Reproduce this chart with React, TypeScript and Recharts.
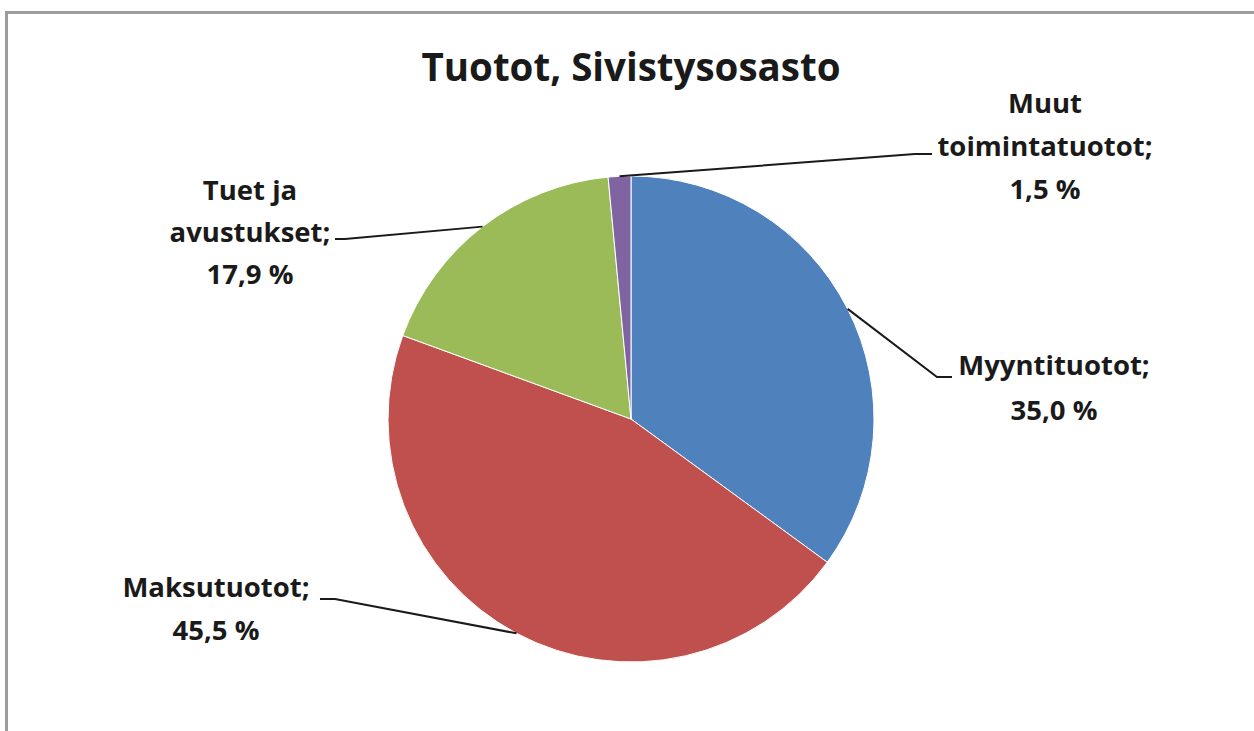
import React from "react";
import { PieChart, Pie, Cell } from "recharts";

const title = "Tuotot, Sivistysosasto";
const names = ["Myyntituotot", "Maksutuotot", "Tuet ja avustukset", "Muut toimintatuotot"];
const values = [35.0, 45.5, 17.9, 1.5];
const nameLines = [["Myyntituotot;"], ["Maksutuotot;"], ["Tuet ja", "avustukset;"], ["Muut", "toimintatuotot;"]];
const colors = ["#4F81BD", "#C0504D", "#9BBB59", "#8064A2"];

// label layout, offsets from pie centre: elbow, line end, text centre x, first baseline, line gap
const labelLayout = [
  { ex: 306, ey: -42, lx: 321, tx: 423, ty: -44, gap: 45 },
  { ex: -296, ey: 180, lx: -311, tx: -415, ty: 178, gap: 43 },
  { ex: -286, ey: -180, lx: -296, tx: -381, ty: -219, gap: 42 },
  { ex: 284, ey: -265, lx: 301, tx: 414, ty: -306, gap: 43 },
];

const data = names.map((n, i) => ({ name: n, value: values[i] }));

const FONT = "'Open Sans', Lato, sans-serif";
const RAD = Math.PI / 180;

const fmt = (v: number) => v.toFixed(1).replace(".", ",") + " %";

const renderLabel = (props: any) => {
  const { cx, cy, midAngle, outerRadius, index, value } = props;
  const L = labelLayout[index];
  const sx = cx + outerRadius * Math.cos(-midAngle * RAD);
  const sy = cy + outerRadius * Math.sin(-midAngle * RAD);
  const lines = [...nameLines[index], fmt(value)];
  return (
    <g key={`lbl-${index}`}>
      <polyline
        points={`${sx},${sy} ${cx + L.ex},${cy + L.ey} ${cx + L.lx},${cy + L.ey}`}
        fill="none"
        stroke="#1a1a1a"
        strokeWidth={2}
      />
      {lines.map((t, k) => (
        <text
          key={k}
          x={cx + L.tx}
          y={cy + L.ty + k * L.gap}
          textAnchor="middle"
          fontFamily={FONT}
          fontWeight={700}
          fontSize={27.5}
          fill="#1a1a1a"
        >
          {t}
        </text>
      ))}
    </g>
  );
};

export default function App() {
  return (
    <div
      style={{
        position: "absolute",
        left: 0,
        top: 0,
        width: 1254,
        height: 731,
        overflow: "hidden",
        background: "#fff",
      }}
    >
      <div
        style={{
          position: "absolute",
          left: 5,
          top: 11,
          width: 1300,
          height: 800,
          borderLeft: "3px solid #9c9c9c",
          borderTop: "3px solid #9c9c9c",
        }}
      />
      <div
        style={{
          position: "absolute",
          left: 0,
          top: 46,
          width: 1262,
          textAlign: "center",
          fontFamily: FONT,
          fontWeight: 700,
          fontSize: 38.5,
          color: "#1a1a1a",
          lineHeight: "40px",
          whiteSpace: "nowrap",
        }}
      >
        {title}
      </div>
      <div style={{ position: "absolute", left: 0, top: 0 }}>
        <PieChart width={1254} height={731} margin={{ top: 0, right: 0, bottom: 0, left: 0 }}>
          <Pie
            data={data}
            dataKey="value"
            nameKey="name"
            cx={631}
            cy={419}
            outerRadius={243}
            startAngle={90}
            endAngle={-270}
            stroke="#ffffff"
            strokeWidth={1}
            label={renderLabel}
            labelLine={false}
            isAnimationActive={false}
          >
            {data.map((d, i) => (
              <Cell key={d.name} fill={colors[i]} />
            ))}
          </Pie>
        </PieChart>
      </div>
    </div>
  );
}
